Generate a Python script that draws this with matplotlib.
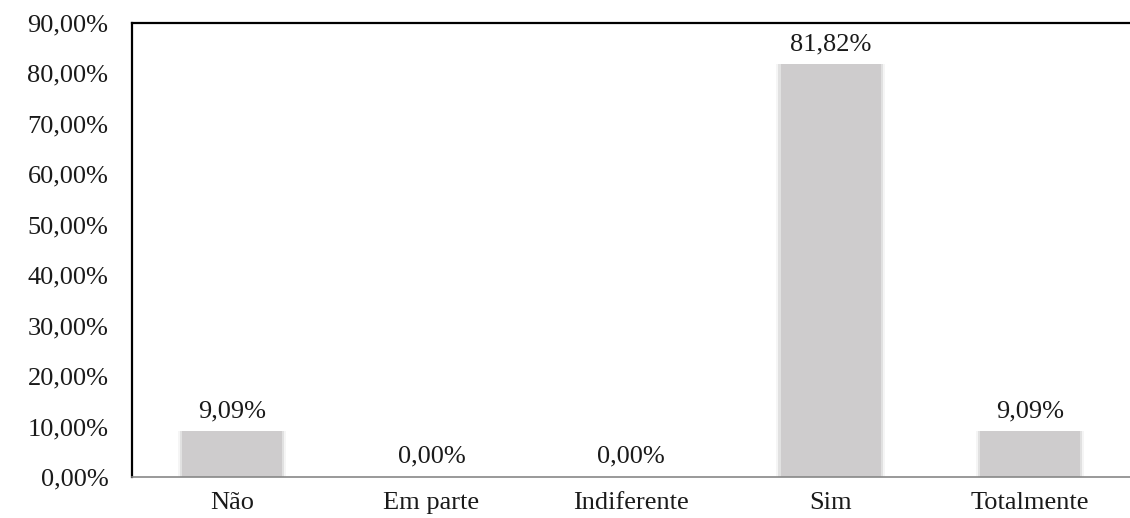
import numpy as np
import matplotlib.pyplot as plt

categorias = ['Não', 'Em parte', 'Indiferente', 'Sim', 'Totalmente']
valores = [9.09, 0.00, 0.00, 81.82, 9.09]
ticks_y = [0, 10, 20, 30, 40, 50, 60, 70, 80, 90]

plt.rcParams['font.family'] = ['Liberation Serif', 'DejaVu Serif']

fig = plt.figure(figsize=(11.3, 5.18), dpi=100)
ax = fig.add_axes([132 / 1130, 41 / 518, 1 - 132 / 1130, (477 - 23) / 518])

x = np.arange(len(categorias))
# sombra leve nas laterais das barras
for dx, a in [(0.012, 0.18), (0.022, 0.08)]:
    ax.bar(x, valores, width=0.5 + 2 * dx, color='#8a8a8a', alpha=a, zorder=1)
ax.bar(x, valores, width=0.5, color='#cecccd', zorder=2)

for xi, v in zip(x, valores):
    ax.text(xi, v + 1.8, f'{v:.2f}%'.replace('.', ','), ha='center', va='bottom',
            fontsize=19, color='#1a1a1a')

ax.set_xlim(-0.5, 4.5)
ax.set_ylim(0, 90)
ax.set_yticks(ticks_y)
ax.set_yticklabels([f'{t:.2f}%'.replace('.', ',') for t in ticks_y], fontsize=19)
ax.set_xticks(x)
ax.set_xticklabels(categorias, fontsize=19)
ax.tick_params(axis='both', length=0, colors='#1a1a1a')
ax.tick_params(axis='y', pad=17)
ax.tick_params(axis='x', pad=11)

ax.spines['right'].set_visible(False)
ax.spines['left'].set_linewidth(1.6)
ax.spines['top'].set_linewidth(1.6)
ax.spines['bottom'].set_color('#888888')
ax.spines['bottom'].set_linewidth(1.2)

fig.savefig('out.png', dpi=100)
